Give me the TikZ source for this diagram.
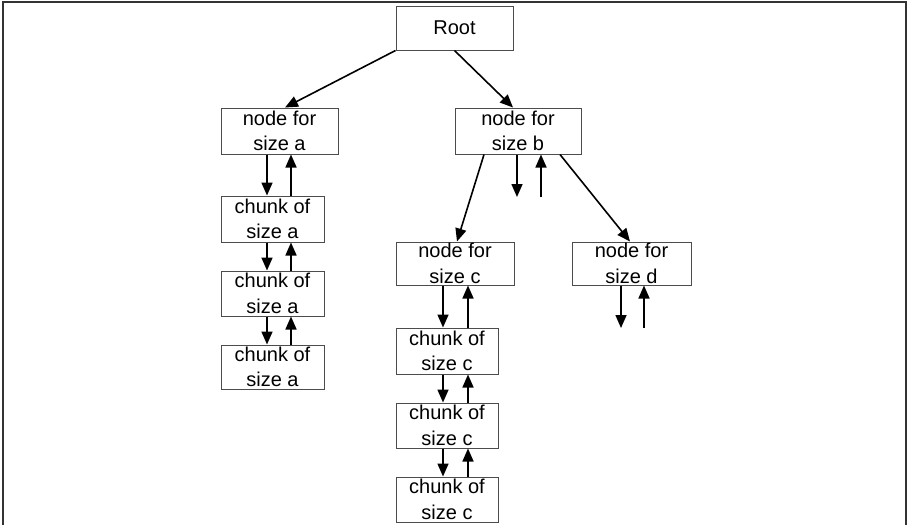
\documentclass[tikz,border=0pt]{standalone}
\usepackage{fontspec}
\setmainfont{Liberation Sans}
\usetikzlibrary{arrows.meta}
\begin{document}
\begin{tikzpicture}[x=1pt,y=-1pt,
  box/.style={draw=black!70,line width=1pt,fill=white,inner sep=0pt,
    align=center,font=\fontsize{20}{25.5}\selectfont},
  link/.style={line width=1.6pt,-{Triangle[width=11pt,length=13pt]}},
  frameline/.style={draw=black!80,line width=2.5pt}]
\useasboundingbox (0,0) rectangle (910,525);
% outer frame (open at the bottom)
\draw[frameline] (3,525) -- (3,2) -- (906,2) -- (906,525);

% tree nodes
\node[box,minimum width=117pt,minimum height=44pt] (root) at (454.5,28) {Root};
\node[box,minimum width=117pt,minimum height=46pt] (na) at (279.5,131) {node for\\size a};
\node[box,minimum width=126pt,minimum height=46pt] (nb) at (518,131) {node for\\size b};
\node[box,minimum width=118pt,minimum height=43pt] (nc) at (455,263.5) {node for\\size c};
\node[box,minimum width=119pt,minimum height=43pt] (nd) at (631.5,263.5) {node for\\size d};

% chunk lists
\node[box,minimum width=103pt,minimum height=46pt] (ca1) at (272.5,219) {chunk of\\size a};
\node[box,minimum width=103pt,minimum height=45pt] (ca2) at (272.5,293.5) {chunk of\\size a};
\node[box,minimum width=103pt,minimum height=44pt] (ca3) at (272.5,367) {chunk of\\size a};
\node[box,minimum width=102pt,minimum height=46pt] (cc1) at (447,351) {chunk of\\size c};
\node[box,minimum width=102pt,minimum height=45pt] (cc2) at (447,425.5) {chunk of\\size c};
\node[box,minimum width=102pt,minimum height=45pt] (cc3) at (447,499.5) {chunk of\\size c};

% free ends of the open lists
\coordinate (bdown) at (517,197);
\coordinate (bup) at (541,197);
\coordinate (ddown) at (621,328);
\coordinate (dup) at (644,328);

% tree edges
\draw[link] (root.south west) -- ([xshift=5.5pt]na.north);
\draw[link] (root.south) -- ([xshift=-5pt]nb.north);
\draw[link] ([xshift=-34pt]nb.south) -- ([xshift=2pt]nc.north);
\draw[link] ([xshift=42pt]nb.south) -- ([xshift=-1.5pt]nd.north);

% size a list
\draw[link] ([xshift=-12.5pt]na.south) -- ([xshift=-5.5pt]ca1.north);
\draw[link] ([xshift=18.5pt]ca1.north) -- ([xshift=11.5pt]na.south);
\draw[link] ([xshift=-5.5pt]ca1.south) -- ([xshift=-5.5pt]ca2.north);
\draw[link] ([xshift=18.5pt]ca2.north) -- ([xshift=18.5pt]ca1.south);
\draw[link] ([xshift=-5.5pt]ca2.south) -- ([xshift=-5.5pt]ca3.north);
\draw[link] ([xshift=18.5pt]ca3.north) -- ([xshift=18.5pt]ca2.south);

% size b list (empty)
\draw[link] ([xshift=-1pt]nb.south) -- (bdown);
\draw[link] (bup) -- ([xshift=23pt]nb.south);

% size c list
\draw[link] ([xshift=-12pt]nc.south) -- ([xshift=-4pt]cc1.north);
\draw[link] ([xshift=21pt]cc1.north) -- ([xshift=13pt]nc.south);
\draw[link] ([xshift=-4pt]cc1.south) -- ([xshift=-4pt]cc2.north);
\draw[link] ([xshift=21pt]cc2.north) -- ([xshift=21pt]cc1.south);
\draw[link] ([xshift=-4pt]cc2.south) -- ([xshift=-4pt]cc3.north);
\draw[link] ([xshift=21pt]cc3.north) -- ([xshift=21pt]cc2.south);

% size d list (empty)
\draw[link] ([xshift=-10.5pt]nd.south) -- (ddown);
\draw[link] (dup) -- ([xshift=12.5pt]nd.south);
\end{tikzpicture}
\end{document}
